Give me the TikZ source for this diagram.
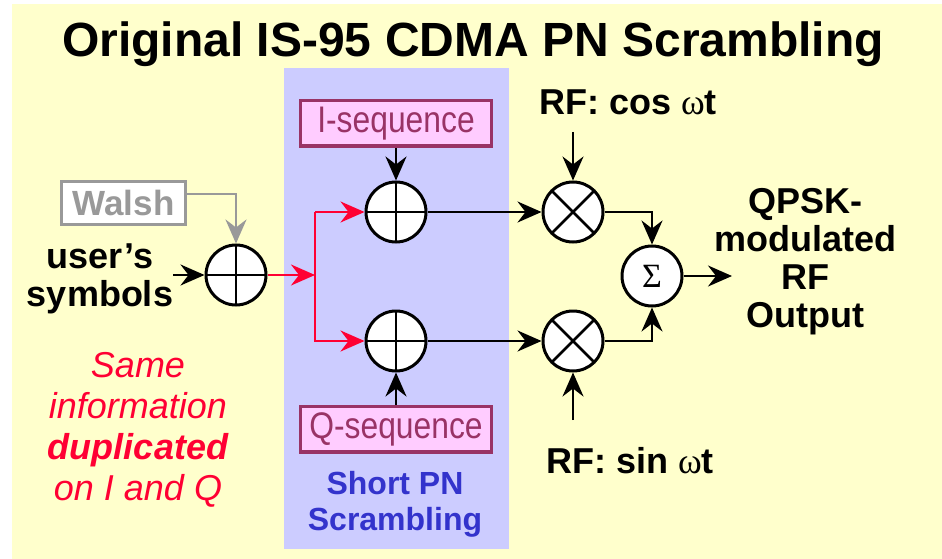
\documentclass[tikz,border=0pt]{standalone}
\usepackage{fontspec}
\usepackage{graphicx}
\setmainfont{Liberation Sans}
\newfontfamily\grk{Liberation Serif}
\usetikzlibrary{arrows.meta}
\definecolor{bgyellow}{HTML}{FFFFCC}
\definecolor{panelblue}{HTML}{CCCCFF}
\definecolor{seqfill}{HTML}{FFCCFF}
\definecolor{seqborder}{HTML}{993366}
\definecolor{sigred}{HTML}{FF0033}
\definecolor{pnblue}{HTML}{3333CC}
\definecolor{walshgray}{HTML}{999999}
\begin{document}
\begin{tikzpicture}[x=1pt,y=-1pt,
  conn/.style={line width=2.6pt,-{Stealth[length=24pt,width=21pt,inset=8pt]}},
  adder/.style={circle,draw,fill=white,line width=3pt,minimum size=60pt,inner sep=0pt,
    path picture={\draw[line width=2.6pt] (path picture bounding box.north)--(path picture bounding box.south)
      (path picture bounding box.west)--(path picture bounding box.east);}},
  mixer/.style={circle,draw,fill=white,line width=3pt,minimum size=60pt,inner sep=0pt,
    path picture={\draw[line width=2.6pt] (path picture bounding box.north west)--(path picture bounding box.south east)
      (path picture bounding box.south west)--(path picture bounding box.north east);}},
  summer/.style={circle,draw,fill=white,line width=3pt,minimum size=60pt,inner sep=0pt,font=\grk\fontsize{34}{34}\selectfont},
  seqbox/.style={draw=seqborder,fill=seqfill,line width=3.5pt,minimum width=191pt,minimum height=45.5pt,inner sep=0pt,
    text=seqborder,font=\fontsize{37}{38}\selectfont},
  lbl/.style={font=\bfseries\fontsize{36}{38}\selectfont,align=center,inner sep=0pt},
]
\useasboundingbox (0,0) rectangle (942,559);
\fill[bgyellow] (12,4) rectangle (942,559);
\fill[panelblue] (284,68) rectangle (509,549);

\node[font=\bfseries\fontsize{48}{52}\selectfont,anchor=base,inner sep=0pt] (title) at (473,57) {Original IS-95 CDMA PN Scrambling};

\node[draw=walshgray,fill=white,line width=3pt,minimum width=124pt,minimum height=43pt,inner sep=0pt,
  text=walshgray,font=\bfseries\fontsize{35}{38}\selectfont] (walsh) at (123.5,203) {Walsh};

\node[adder] (x1) at (236,275) {};
\node[adder] (xi) at (396,212) {};
\node[adder] (xq) at (396,341) {};
\node[seqbox] (iseq) at (396,123.5) {\scalebox{0.86}[1]{I-sequence}};
\node[seqbox] (qseq) at (396,429) {\scalebox{0.86}[1]{Q-sequence}};
\node[mixer] (m1) at (573,212) {};
\node[mixer] (m2) at (573,341) {};
\node[summer] (sum) at (652,276) {Σ};

\node[lbl] (user) at (100,279) {user’s\\symbols};
\node[lbl,text=sigred,font=\itshape\fontsize{36}{41}\selectfont] (same) at (138,430) {Same\\information\\\textbf{duplicated}\\on I and Q};
\node[lbl,text=pnblue,font=\bfseries\fontsize{32}{36}\selectfont] (spn) at (395,504) {Short PN\\Scrambling};
\node[lbl,anchor=base] (rfcos) at (628,115) {RF: cos {\mdseries\grk ω}t};
\node[lbl,anchor=base] (rfsin) at (630,473) {RF: sin {\mdseries\grk ω}t};
\node[lbl] (out) at (805,262) {QPSK-\\modulated\\RF\\Output};

\coordinate (uin) at (173,275);
\coordinate (jm) at (315,275);
\coordinate (jt) at (315,212);
\coordinate (cosin) at (573,132);
\coordinate (sinin) at (573,420);
\coordinate (outend) at (732,276);

\draw[conn,walshgray] ([yshift=9pt]walsh.east) -| (x1.north);
\draw[conn] (uin) -- (x1.west);
\draw[conn,sigred] (x1.east) -- (jm);
\draw[conn,sigred] (jt) -- (xi.west);
\draw[conn,sigred] (jt) |- (xq.west);
\draw[conn] (iseq.south) -- (xi.north);
\draw[conn] (qseq.north) -- (xq.south);
\draw[conn] (xi.east) -- (m1.west);
\draw[conn] (xq.east) -- (m2.west);
\draw[conn] (cosin) -- (m1.north);
\draw[conn] (sinin) -- (m2.south);
\draw[conn] (m1.east) -| (sum.north);
\draw[conn] (m2.east) -| (sum.south);
\draw[conn] (sum.east) -- (outend);
\end{tikzpicture}
\end{document}
